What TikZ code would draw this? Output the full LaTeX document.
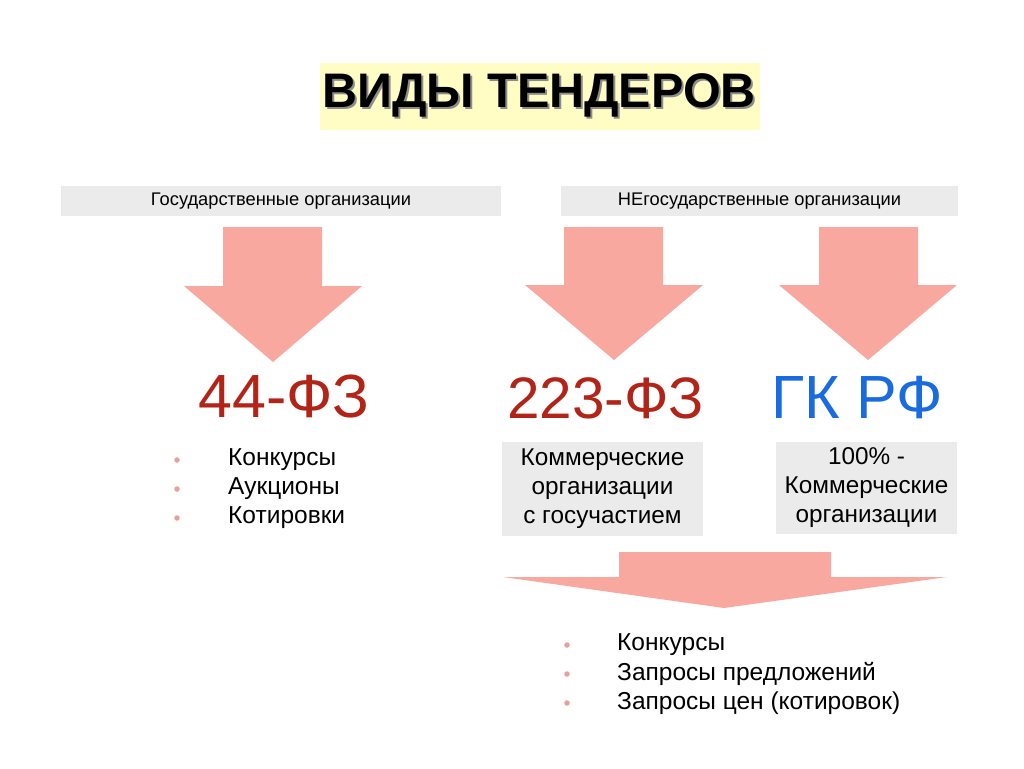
\documentclass[tikz,border=0pt]{standalone}
\usepackage{fontspec}
\setmainfont{Liberation Sans}
\definecolor{arrowpink}{RGB}{249,168,160}
\definecolor{bargray}{RGB}{235,235,235}
\definecolor{titleyellow}{RGB}{255,252,196}
\definecolor{lawred}{RGB}{178,36,24}
\definecolor{lawblue}{RGB}{26,107,224}
\definecolor{bulletpink}{RGB}{232,160,154}
\newcommand{\shadowtext}[1]{\rlap{\hspace{2pt}\raisebox{-2pt}{\color{black!45}#1}}#1}
\tikzset{
  fatarrow/.style={fill=arrowpink, draw=none},
  headerbar/.style={fill=bargray, draw=none, inner sep=0pt, font=\fontsize{18.3}{21}\selectfont},
  lawlabel/.style={inner sep=0pt, font=\fontsize{61}{70}\selectfont},
  graybox/.style={fill=bargray, draw=none, inner sep=0pt, align=center, font=\fontsize{24.3}{29}\selectfont},
  itemtext/.style={anchor=west, inner sep=0pt, font=\fontsize{24.5}{29}\selectfont},
  bulletdot/.style={circle, fill=bulletpink, inner sep=0pt, minimum size=5.5pt}
}
\begin{document}
\begin{tikzpicture}[x=1pt,y=-1pt]
\useasboundingbox[fill=white] (0,0) rectangle (1024,768);
% title
\node[fill=titleyellow, minimum width=440pt, minimum height=67pt, inner sep=0pt] (titlebg) at (540,96) {};
\node[text=black, font=\fontsize{48.5}{56}\bfseries\selectfont, inner sep=0pt] (title) at (539,96) {\shadowtext{ВИДЫ ТЕНДЕРОВ}};
% header bars
\node[headerbar, minimum width=440pt, minimum height=30pt] (gov) at (281,201) {Государственные организации};
\node[headerbar, minimum width=397pt, minimum height=30pt] (nongov) at (759.5,201) {НЕгосударственные организации};
% arrows
\fill[fatarrow] (223,227) -- (322,227) -- (322,286) -- (362,286) -- (273,362) -- (184,286) -- (223,286) -- cycle;
\fill[fatarrow] (564,227) -- (663,227) -- (663,285) -- (703,285) -- (614,360) -- (525,285) -- (564,285) -- cycle;
\fill[fatarrow] (819,227) -- (918,227) -- (918,285) -- (957,285) -- (868,360) -- (779,285) -- (819,285) -- cycle;
\fill[fatarrow] (619,552) -- (831,552) -- (831,577) -- (947,577) -- (724,608) -- (503,577) -- (619,577) -- cycle;
% law labels
\node[lawlabel, text=lawred] (fz44) at (284,397) {44-ФЗ};
\node[lawlabel, text=lawred, font=\fontsize{58.5}{70}\selectfont] (fz223) at (605.5,398) {223-ФЗ};
\node[lawlabel, text=lawblue] (gkrf) at (857,398) {ГК РФ};
% left list
\node[bulletdot] (lb1) at (177,460) {};
\node[bulletdot] (lb2) at (177,489) {};
\node[bulletdot] (lb3) at (177,518) {};
\node[itemtext] (li1) at (228,460) {Конкурсы};
\node[itemtext] (li2) at (228,489) {Аукционы};
\node[itemtext] (li3) at (228,518) {Котировки};
% gray boxes
\node[graybox, minimum width=201pt, minimum height=94pt] (box223) at (602.5,489) {Коммерческие\\организации\\с госучастием};
\node[graybox, minimum width=181pt, minimum height=92pt] (boxgk) at (866.5,488) {100\% -\\Коммерческие\\организации};
% bottom list
\node[bulletdot] (bb1) at (567,645) {};
\node[bulletdot] (bb2) at (567,674) {};
\node[bulletdot] (bb3) at (567,703) {};
\node[itemtext] (bi1) at (617,645) {Конкурсы};
\node[itemtext] (bi2) at (617,674) {Запросы предложений};
\node[itemtext] (bi3) at (617,703) {Запросы цен (котировок)};
\end{tikzpicture}
\end{document}
